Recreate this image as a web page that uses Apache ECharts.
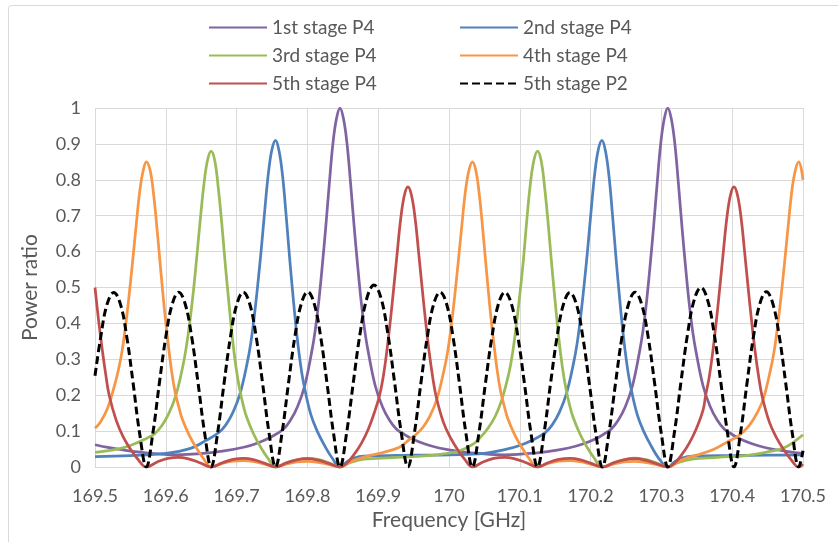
<!DOCTYPE html>
<html>
<head>
<meta charset="utf-8">
<script src="https://cdn.jsdelivr.net/npm/echarts@6/dist/echarts.min.js"></script>
<style>html,body{margin:0;padding:0;background:#fff;}#c{width:838px;height:542px;}</style>
</head>
<body>
<div id="c"></div>
<script>
// ---------- data ----------
const seriesNames = ['1st stage P4', '2nd stage P4', '3rd stage P4', '4th stage P4', '5th stage P4', '5th stage P2'];
const xMin = 169.5, xMax = 170.5, xStep = 0.1;
const yMin = 0, yMax = 1, yStep = 0.1;

const stage1Freq = [169.5,169.52,169.55,169.58,169.614,169.65,169.68,169.71,169.73,169.75,169.766,169.776,169.786,169.796,169.806,169.811,169.816,169.821,169.826,169.831,169.836,169.841,169.846,169.851,169.856,169.861,169.866,169.871,169.876,169.881,169.886,169.896,169.906,169.916,169.926,169.936,169.946,169.966,169.986,170.016,170.046,170.078,170.109,170.139,170.169,170.189,170.209,170.219,170.229,170.239,170.249,170.259,170.269,170.274,170.279,170.284,170.289,170.294,170.299,170.304,170.309,170.314,170.319,170.324,170.329,170.334,170.339,170.344,170.349,170.359,170.369,170.379,170.389,170.399,170.409,170.429,170.449,170.479,170.5];
const stage1P4 = [0.062,0.054,0.044,0.038,0.034,0.037,0.044,0.055,0.067,0.085,0.105,0.13,0.168,0.225,0.32,0.38,0.46,0.56,0.67,0.79,0.90,0.97,1.0,0.97,0.90,0.79,0.67,0.56,0.46,0.38,0.32,0.225,0.168,0.13,0.105,0.092,0.08,0.064,0.053,0.043,0.037,0.034,0.037,0.043,0.053,0.064,0.08,0.092,0.105,0.13,0.168,0.225,0.32,0.38,0.46,0.56,0.67,0.79,0.90,0.97,1.0,0.97,0.90,0.79,0.67,0.56,0.46,0.38,0.32,0.225,0.168,0.13,0.105,0.092,0.08,0.064,0.053,0.043,0.038];

const stage2Freq = [169.5,169.55,169.6,169.635,169.655,169.675,169.685,169.695,169.705,169.715,169.72,169.725,169.73,169.735,169.74,169.745,169.75,169.755,169.76,169.765,169.77,169.775,169.78,169.785,169.79,169.795,169.805,169.815,169.825,169.835,169.846,169.856,169.866,169.88,169.95,170.0,170.05,170.08,170.1,170.116,170.136,170.146,170.156,170.166,170.176,170.181,170.186,170.191,170.196,170.201,170.206,170.211,170.216,170.221,170.226,170.231,170.236,170.241,170.246,170.251,170.256,170.266,170.276,170.286,170.296,170.309,170.319,170.329,170.345,170.4,170.45,170.5];
const stage2P4 = [0.029,0.032,0.038,0.052,0.072,0.096,0.118,0.153,0.205,0.29,0.345,0.42,0.51,0.61,0.72,0.82,0.885,0.91,0.88,0.81,0.70,0.58,0.47,0.37,0.29,0.23,0.145,0.095,0.057,0.025,0,0.015,0.025,0.03,0.033,0.034,0.038,0.049,0.06,0.073,0.096,0.118,0.153,0.205,0.29,0.345,0.42,0.51,0.61,0.72,0.82,0.885,0.91,0.88,0.81,0.70,0.58,0.47,0.37,0.29,0.23,0.145,0.095,0.057,0.025,0,0.015,0.025,0.03,0.032,0.033,0.034];

const stage3Freq = [169.5,169.53,169.55,169.574,169.584,169.594,169.604,169.614,169.624,169.629,169.634,169.639,169.644,169.649,169.654,169.659,169.664,169.669,169.674,169.679,169.684,169.689,169.694,169.699,169.704,169.709,169.714,169.724,169.734,169.744,169.755,169.77,169.785,169.8,169.815,169.83,169.846,169.86,169.88,169.92,169.96,169.99,170.015,170.035,170.045,170.055,170.065,170.075,170.085,170.09,170.095,170.1,170.105,170.11,170.115,170.12,170.125,170.13,170.135,170.14,170.145,170.15,170.155,170.16,170.165,170.17,170.175,170.185,170.195,170.205,170.216,170.232,170.247,170.262,170.277,170.292,170.309,170.323,170.343,170.38,170.42,170.45,170.475,170.5];
const stage3P4 = [0.041,0.049,0.06,0.081,0.092,0.114,0.148,0.198,0.28,0.335,0.405,0.49,0.59,0.695,0.79,0.855,0.88,0.855,0.78,0.68,0.565,0.46,0.36,0.28,0.22,0.175,0.14,0.092,0.055,0.025,0,0.012,0.02,0.024,0.021,0.012,0,0.012,0.022,0.026,0.03,0.036,0.045,0.065,0.084,0.108,0.14,0.19,0.265,0.32,0.395,0.48,0.575,0.69,0.79,0.855,0.88,0.855,0.78,0.68,0.565,0.46,0.36,0.28,0.22,0.175,0.14,0.092,0.055,0.025,0,0.012,0.02,0.025,0.021,0.012,0,0.012,0.022,0.027,0.032,0.042,0.055,0.09];

const stage4Freq = [169.5,169.508,169.518,169.528,169.533,169.538,169.543,169.548,169.553,169.558,169.563,169.568,169.5725,169.578,169.583,169.588,169.593,169.598,169.603,169.608,169.613,169.618,169.623,169.633,169.643,169.653,169.664,169.68,169.695,169.71,169.725,169.74,169.755,169.77,169.785,169.8,169.815,169.83,169.846,169.86,169.875,169.89,169.91,169.93,169.943,169.953,169.963,169.973,169.983,169.993,169.998,170.003,170.008,170.013,170.018,170.023,170.028,170.033,170.038,170.043,170.048,170.053,170.058,170.063,170.068,170.073,170.078,170.083,170.093,170.103,170.113,170.125,170.14,170.155,170.17,170.185,170.2,170.2166,170.232,170.247,170.262,170.277,170.292,170.309,170.323,170.338,170.355,170.375,170.395,170.405,170.415,170.425,170.435,170.444,170.454,170.459,170.464,170.469,170.474,170.479,170.484,170.489,170.494,170.5];
const stage4P4 = [0.108,0.126,0.165,0.23,0.27,0.32,0.39,0.475,0.57,0.67,0.765,0.825,0.85,0.825,0.755,0.655,0.545,0.44,0.35,0.27,0.21,0.17,0.135,0.089,0.054,0.024,0,0.01,0.016,0.018,0.015,0.008,0,0.008,0.014,0.016,0.013,0.007,0,0.014,0.025,0.033,0.042,0.055,0.075,0.09,0.11,0.142,0.19,0.27,0.32,0.39,0.475,0.57,0.67,0.765,0.825,0.85,0.825,0.755,0.655,0.545,0.44,0.35,0.27,0.21,0.17,0.135,0.089,0.054,0.024,0,0.01,0.016,0.018,0.015,0.008,0,0.008,0.014,0.016,0.013,0.007,0,0.014,0.027,0.036,0.05,0.072,0.082,0.097,0.118,0.15,0.19,0.27,0.32,0.39,0.475,0.57,0.67,0.765,0.825,0.85,0.80];

const stage5Freq = [169.5,169.505,169.51,169.515,169.52,169.53,169.54,169.55,169.56,169.5725,169.588,169.603,169.618,169.633,169.648,169.664,169.68,169.695,169.71,169.725,169.74,169.755,169.77,169.785,169.8,169.815,169.83,169.846,169.856,169.866,169.876,169.886,169.896,169.902,169.907,169.912,169.917,169.922,169.927,169.932,169.937,169.942,169.947,169.952,169.957,169.962,169.967,169.972,169.977,169.982,169.992,170.002,170.012,170.022,170.033,170.048,170.063,170.079,170.094,170.109,170.125,170.14,170.155,170.171,170.186,170.201,170.2166,170.232,170.247,170.262,170.277,170.292,170.309,170.319,170.329,170.339,170.349,170.359,170.3625,170.3675,170.3725,170.3775,170.3825,170.3875,170.3925,170.3975,170.4025,170.4075,170.4125,170.4175,170.4225,170.4275,170.4325,170.4375,170.4425,170.4525,170.4625,170.4725,170.4825,170.494,170.5];
const stage5P4 = [0.5,0.41,0.33,0.26,0.2,0.13,0.083,0.05,0.023,0,0.014,0.024,0.027,0.022,0.012,0,0.012,0.021,0.024,0.02,0.01,0,0.011,0.02,0.023,0.019,0.01,0,0.012,0.035,0.065,0.105,0.16,0.2,0.25,0.32,0.405,0.5,0.6,0.695,0.757,0.78,0.757,0.695,0.6,0.5,0.405,0.32,0.25,0.195,0.125,0.082,0.049,0.022,0,0.014,0.024,0.027,0.022,0.012,0,0.012,0.021,0.024,0.02,0.01,0,0.011,0.02,0.023,0.019,0.01,0,0.012,0.035,0.065,0.105,0.16,0.2,0.25,0.32,0.405,0.5,0.6,0.695,0.757,0.78,0.757,0.695,0.6,0.5,0.405,0.32,0.25,0.195,0.125,0.082,0.049,0.022,0,0.008];

const stage5P2Freq = [169.5,169.508,169.517,169.5265,169.536,169.545,169.554,169.563,169.5725,
169.5817,169.5908,169.6,169.6091,169.6183,169.6274,169.6366,169.6457,169.6549,169.664,
169.6731,169.6822,169.6913,169.7004,169.7095,169.7186,169.7277,169.7368,169.7459,169.755,
169.7641,169.7732,169.7823,169.7914,169.8005,169.8096,169.8187,169.8278,169.8369,169.846,
169.8556,169.8652,169.8748,169.8844,169.894,169.9036,169.9132,169.9228,169.9324,169.942,
169.9511,169.9602,169.9693,169.9784,169.9875,169.9966,170.0057,170.0148,170.0239,170.033,
170.0422,170.0514,170.0606,170.0698,170.079,170.0882,170.0974,170.1066,170.1158,170.125,
170.1342,170.1433,170.1525,170.1616,170.1708,170.18,170.1891,170.1983,170.2074,170.2166,
170.2258,170.2351,170.2443,170.2536,170.2628,170.272,170.2813,170.2905,170.2998,170.309,
170.3184,170.3277,170.3371,170.3464,170.3558,170.3651,170.3745,170.3838,170.3932,170.4025,
170.4117,170.4208,170.43,170.4391,170.4483,170.4574,170.4666,170.4757,170.4849,170.494,170.5];
const stage5P2 = [0.254,0.361,0.453,0.486,0.453,0.361,0.231,0.094,0,
0.094,0.232,0.362,0.454,0.487,0.454,0.362,0.232,0.094,0,
0.094,0.232,0.362,0.454,0.487,0.454,0.362,0.232,0.094,0,
0.094,0.232,0.363,0.455,0.488,0.455,0.363,0.232,0.094,0,
0.098,0.241,0.377,0.473,0.507,0.473,0.377,0.241,0.098,0,
0.094,0.232,0.362,0.454,0.487,0.454,0.362,0.232,0.094,0,
0.094,0.232,0.362,0.454,0.487,0.454,0.362,0.232,0.094,0,
0.094,0.231,0.361,0.453,0.486,0.453,0.361,0.231,0.094,0,
0.094,0.232,0.362,0.454,0.487,0.454,0.362,0.232,0.094,0,
0.097,0.238,0.372,0.466,0.5,0.466,0.372,0.238,0.097,0,
0.094,0.232,0.363,0.455,0.488,0.455,0.363,0.232,0.094,0,0.045];

// ---------- chart ----------
const colors = ['#8064A2', '#4F81BD', '#9BBB59', '#F79646', '#C0504D', '#000000'];
const freqs = [stage1Freq, stage2Freq, stage3Freq, stage4Freq, stage5Freq, stage5P2Freq];
const powers = [stage1P4, stage2P4, stage3P4, stage4P4, stage5P4, stage5P2];

const FONT = 'Lato, "Liberation Sans", sans-serif';
const TXT = '#595959';

const chart = echarts.init(document.getElementById('c'), null, {renderer: 'canvas'});
chart.setOption({
  animation: false,
  backgroundColor: '#ffffff',
  textStyle: {fontFamily: FONT, color: TXT},
  graphic: [{
    type: 'rect', left: 6, top: 3, z: -10,
    shape: {width: 850, height: 560, r: 3},
    style: {fill: 'none', stroke: '#d9d9d9', lineWidth: 1}
  }],
  legend: {
    left: 208, top: 18, width: 500, padding: 0,
    itemWidth: 58, itemHeight: 3, itemGap: 9,
    data: seriesNames,
    itemStyle: {opacity: 0},
    textStyle: {fontFamily: FONT, fontSize: 19, color: TXT, width: 178, lineHeight: 17.5}
  },
  grid: {left: 95, right: 35, top: 108, bottom: 75, containLabel: false},
  xAxis: {
    type: 'value', min: xMin, max: xMax, interval: xStep,
    name: 'Frequency [GHz]', nameLocation: 'middle', nameGap: 43,
    nameTextStyle: {fontFamily: FONT, fontSize: 21, color: TXT},
    axisLine: {show: true, lineStyle: {color: '#d9d9d9'}},
    axisTick: {show: false},
    axisLabel: {fontFamily: FONT, fontSize: 18, color: TXT, margin: 20},
    splitLine: {show: true, lineStyle: {color: '#d9d9d9', width: 1}}
  },
  yAxis: {
    type: 'value', min: yMin, max: yMax, interval: yStep,
    name: 'Power ratio', nameLocation: 'middle', nameGap: 54, nameRotate: 90,
    nameTextStyle: {fontFamily: FONT, fontSize: 21, color: TXT},
    axisLine: {show: false},
    axisTick: {show: false},
    axisLabel: {fontFamily: FONT, fontSize: 18, color: TXT, margin: 14},
    splitLine: {show: true, lineStyle: {color: '#d9d9d9', width: 1}}
  },
  series: seriesNames.map((name, i) => ({
    name: name,
    type: 'line',
    symbol: 'none',
    smooth: 0.4,
    color: colors[i],
    lineStyle: {
      color: colors[i],
      width: i === 5 ? 3 : 2.75,
      type: i === 5 ? [8, 4] : 'solid'
    },
    data: freqs[i].map((f, k) => [f, powers[i][k]])
  }))
});
</script>
</body>
</html>
